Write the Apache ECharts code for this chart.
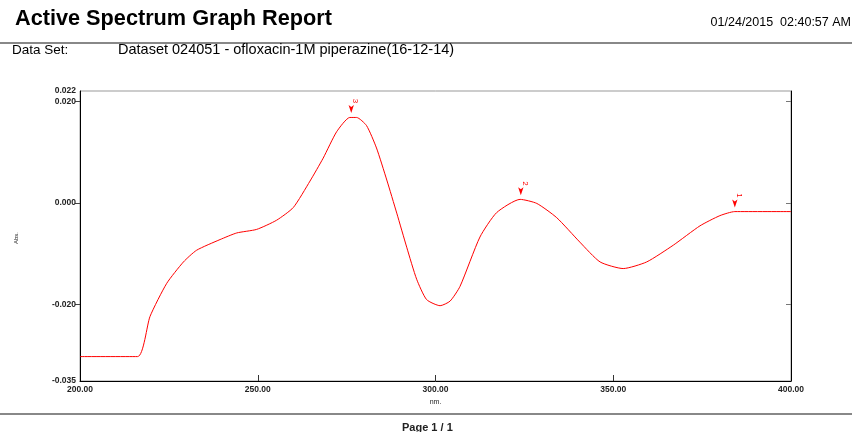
<!DOCTYPE html>
<html>
<head>
<meta charset="utf-8">
<script src="https://cdn.jsdelivr.net/npm/echarts@6/dist/echarts.min.js"></script>
<style>
  html, body { margin: 0; padding: 0; background: #fff; }
  #spectrum { width: 852px; height: 432px; }
</style>
</head>
<body>
<div id="spectrum"></div>
<script>
// wavelengths (nm) and absorbance
var wavelengths = [200, 216.2, 219.7, 224.4, 229.1, 232.8, 239.4, 244.1, 249.7, 255.3, 260.0,
    264.7, 268.4, 272.2, 275.9, 277.8, 280.6, 283.4, 286.3, 289.1, 291.9, 294.7, 297.5,
    301.3, 304.1, 306.9, 312.5, 317.2, 323.8, 328.5, 334.1, 340.6, 346.3, 352.8, 359.4,
    366.9, 374.4, 380.0, 384.2, 400];
var absorbance = [-0.0302, -0.0302, -0.0223, -0.0158, -0.0116, -0.0093, -0.0072, -0.0059, -0.0052, -0.0034, -0.0009,
    0.0043, 0.0088, 0.0140, 0.0168, 0.0168, 0.0152, 0.0108, 0.0045, -0.0020, -0.0087, -0.0150, -0.0190,
    -0.0202, -0.0193, -0.0164, -0.0067, -0.0019, 0.0007, -0.0001, -0.0029, -0.0077, -0.0116, -0.0129, -0.0116,
    -0.0083, -0.0045, -0.0025, -0.0017, -0.0017];

// picked peaks
var peakNames = ['3', '2', '1'];
var peakNm = [276.3, 324.0, 384.2];
var peakAbs = [0.0169, 0.0007, -0.0017];

var yLabelValues = [-0.035, -0.020, 0.000, 0.020, 0.022];
var yTickValues = [-0.020, 0.000, 0.020];
var xTickValues = [250, 300, 350];

var points = wavelengths.map(function (w, i) { return [w, absorbance[i]]; });
var peaks = peakNames.map(function (n, i) {
    return { name: n, coord: [peakNm[i], peakAbs[i]], value: n };
});

var axisFont = { fontFamily: 'Liberation Sans', fontSize: 8.5, fontWeight: 'bold', color: '#222' };

var myChart = echarts.init(document.getElementById('spectrum'));
myChart.setOption({
    animation: false,
    backgroundColor: '#fff',
    grid: { left: 80, right: 61, top: 91, bottom: 51, show: true, borderColor: '#999', borderWidth: 1 },
    xAxis: {
        type: 'value', min: 200, max: 400, interval: 50,
        axisLine: { onZero: false, lineStyle: { color: '#000', width: 1 } },
        axisTick: { show: true, inside: true, length: 6, customValues: xTickValues,
            lineStyle: { color: '#333', width: 1 } },
        splitLine: { show: false },
        axisLabel: Object.assign({ margin: 4, formatter: function (v) { return v.toFixed(2); } }, axisFont),
        name: 'nm.', nameLocation: 'middle', nameGap: 11,
        nameTextStyle: { fontFamily: 'Liberation Sans', fontSize: 7, color: '#222' }
    },
    yAxis: [{
        type: 'value', min: -0.035, max: 0.022, position: 'left',
        axisLine: { show: true, onZero: false, lineStyle: { color: '#000', width: 1 } },
        axisTick: { show: true, length: 5, customValues: yTickValues, lineStyle: { color: '#444' } },
        splitLine: { show: false },
        axisLabel: Object.assign({ margin: 4, customValues: yLabelValues,
            formatter: function (v) { return v.toFixed(3); } }, axisFont)
    }, {
        type: 'value', min: -0.035, max: 0.022, position: 'right',
        axisLine: { show: true, onZero: false, lineStyle: { color: '#000', width: 1 } },
        axisTick: { show: true, inside: true, length: 5, customValues: yTickValues, lineStyle: { color: '#777' } },
        axisLabel: { show: false },
        splitLine: { show: false }
    }],
    series: [{
        type: 'line',
        data: points,
        smooth: 0.2,
        showSymbol: false,
        lineStyle: { color: '#ff0000', width: 1 },
        markPoint: {
            symbol: 'arrow',
            symbolSize: [4, 8],
            symbolRotate: 180,
            symbolOffset: [0, -4],
            itemStyle: { color: '#ff0000' },
            label: {
                show: true, position: 'top', distance: 4, rotate: -90,
                formatter: '{b}', color: '#ff0000', fontSize: 8,
                fontFamily: 'Liberation Sans'
            },
            data: peaks
        }
    }],
    graphic: [
        { type: 'text', left: 15, top: 8,
          style: { text: 'Active Spectrum Graph Report', font: 'bold 21.7px "Liberation Sans"', fill: '#000' } },
        { type: 'text', right: 1, top: 16,
          style: { text: '01/24/2015  02:40:57 AM', font: '12.5px "Liberation Sans"', fill: '#000' } },
        { type: 'line', shape: { x1: 0, y1: 43, x2: 852, y2: 43 }, style: { stroke: '#888', lineWidth: 2 } },
        { type: 'text', left: 12, top: 43,
          style: { text: 'Data Set:', font: '13.5px "Liberation Sans"', fill: '#000' } },
        { type: 'text', left: 118, top: 42,
          style: { text: 'Dataset 024051 - ofloxacin-1M piperazine(16-12-14)', font: '14.5px "Liberation Sans"', fill: '#000' } },
        { type: 'text', left: 13, top: 232, rotation: Math.PI / 2,
          style: { text: 'Abs.', font: '6px "Liberation Sans"', fill: '#222' } },
        { type: 'line', shape: { x1: 0, y1: 414, x2: 852, y2: 414 }, style: { stroke: '#888', lineWidth: 2 } },
        { type: 'text', left: 402, top: 422,
          style: { text: 'Page 1 / 1', font: 'bold 11px "Liberation Sans"', fill: '#222' } }
    ]
});
</script>
</body>
</html>
